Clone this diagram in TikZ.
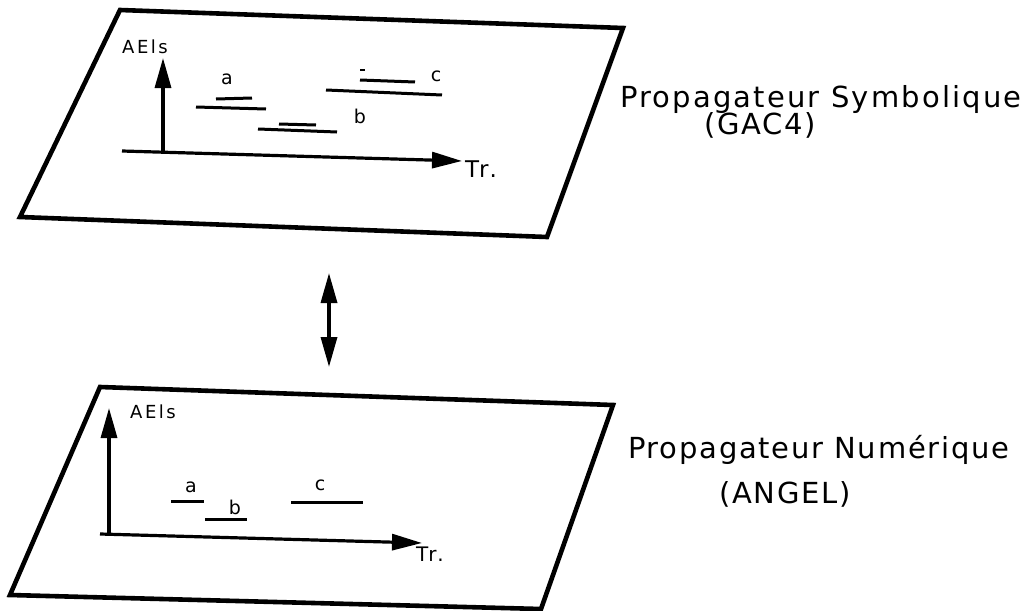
\documentclass[tikz,border=0pt]{standalone}
\usepackage{fontspec}
\setmainfont{DejaVu Sans}
\newfontfamily\plotfont[LetterSpace=6]{DejaVu Sans}
\newfontfamily\plotwide[LetterSpace=7.5]{DejaVu Sans}
\newfontfamily\axisfont[LetterSpace=14]{DejaVu Sans}
\usetikzlibrary{arrows.meta,positioning}
\def\TipL{30pt}
\def\TipW{16pt}
\tikzset{
  plane/.style={line width=4.6pt,line join=miter},
  axis/.style={line width=3.2pt,-{Triangle[length=\TipL,width=\TipW]}},
  span/.style={line width=3pt},
  tag/.style={font=\fontsize{19}{21}\selectfont,inner sep=0pt},
  axtag/.style={font=\axisfont\fontsize{18}{20}\selectfont,inner sep=0pt},
  title/.style={font=\plotfont\fontsize{29}{34}\selectfont,inner sep=0pt}
}
\begin{document}
\begin{tikzpicture}[x=1pt,y=-1pt]
  \useasboundingbox (0,0) rectangle (1024,610);
  % upper plane
  \coordinate (u1) at (120,10);
  \coordinate (u2) at (623,28);
  \coordinate (u3) at (547,237);
  \coordinate (u4) at (20,217);
  \draw[plane] (u1) -- (u2) -- (u3) -- (u4) -- cycle;
  % 
  \coordinate (uo) at (163,152);
  \coordinate (uy) at (163,58);
  \coordinate (ux0) at (122,151);
  \coordinate (ux) at (462,161);
  \draw[axis] (uo) -- (uy);
  \draw[axis] (ux0) -- (ux);
  \node[axtag,anchor=base west] (uael) at (122,53) {AEls};
  \node[tag,font=\axisfont\fontsize{23}{25}\selectfont,anchor=base west] (utr) at (465,177) {Tr.};
  % 
  \draw[span] (216,99) -- (252,98);
  \draw[span] (196,107) -- (266,109);
  \draw[span] (279,124) -- (316,125);
  \draw[span] (258,129) -- (337,132);
  \draw[span] (360,80) -- (415,82);
  \draw[span] (326,90) -- (442,95);
  \draw[line width=2pt] (360,70) -- (365,70);
  \node[tag] (ua) at (227,79) {a};
  \node[tag] (ub) at (360,116) {b};
  \node[tag] (uc) at (436,76) {c};
  % 
  \node[title,font=\plotwide\fontsize{29}{34}\selectfont,anchor=base west] (sym) at (620,107) {Propagateur Symbolique};
  \node[title,anchor=base] (gac) at (760,134) {(GAC4)};
  % link
  \coordinate (lup) at (329,273);
  \coordinate (ldn) at (329,367);
  \draw[line width=3.4pt,{Triangle[length=\TipL,width=\TipW]}-{Triangle[length=\TipL,width=\TipW]}] (lup) -- (ldn);
  % lower plane
  \coordinate (l1) at (100,387);
  \coordinate (l2) at (613,405);
  \coordinate (l3) at (541,609);
  \coordinate (l4) at (10,595);
  \draw[plane] (l1) -- (l2) -- (l3) -- (l4) -- cycle;
  % 
  \coordinate (lo) at (109,535);
  \coordinate (ly) at (109,408);
  \coordinate (lx0) at (100,534);
  \coordinate (lx) at (422,543);
  \draw[axis] (lo) -- (ly);
  \draw[axis] (lx0) -- (lx);
  \node[axtag,anchor=base west] (lael) at (130,418) {AEls};
  \node[tag,font=\axisfont\fontsize{20}{22}\selectfont,anchor=base west] (ltr) at (416,561) {Tr.};
  % 
  \draw[span] (171,501) -- (204,501);
  \draw[span] (205,519) -- (247,519);
  \draw[span] (291,502) -- (363,502);
  \node[tag] (la) at (191,487) {a};
  \node[tag] (lb) at (235,507) {b};
  \node[tag] (lc) at (320,485) {c};
  % 
  \node[title,anchor=base west] (num) at (628,458) {Propagateur Numérique};
  \node[title,anchor=base] (ang) at (785,503) {(ANGEL)};
\end{tikzpicture}
\end{document}
